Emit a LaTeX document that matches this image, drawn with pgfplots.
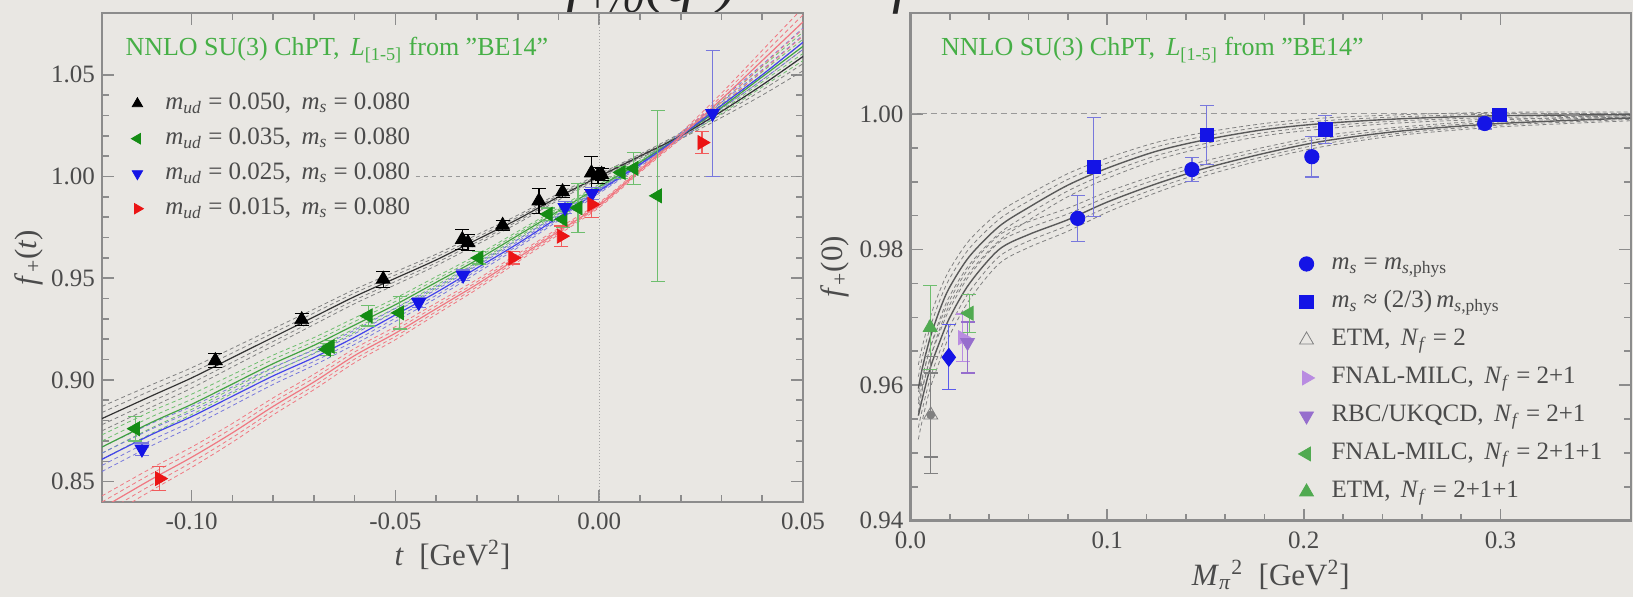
\documentclass[border=0pt]{standalone}
\usepackage{fontspec}
\setmainfont{Liberation Serif}
\usepackage{pgfplots}
\usepackage{pgfplotstable}
\pgfplotsset{compat=1.18}

\definecolor{bg}{RGB}{233,231,227}
\definecolor{axgray}{RGB}{140,140,140}
\definecolor{txtgray}{RGB}{75,75,75}
\definecolor{titlegreen}{RGB}{70,175,70}
\definecolor{fgreen}{RGB}{20,140,20}
\definecolor{egreen}{RGB}{110,190,110}
\definecolor{fblue}{RGB}{20,20,230}
\definecolor{eblue}{RGB}{120,120,220}
\definecolor{fred}{RGB}{235,20,20}
\definecolor{pinkline}{RGB}{240,120,130}
\definecolor{lpurple}{RGB}{185,140,225}
\definecolor{mpurple}{RGB}{150,110,205}
\definecolor{lgreen}{RGB}{80,170,80}

% left panel: data points, t [GeV^2], f_+(t), error
\pgfplotstableread{
t f e
-0.0942 0.9095 0.0035
-0.0730 0.9296 0.0030
-0.0530 0.9495 0.0040
-0.0336 0.9690 0.0050
-0.0322 0.9675 0.0040
-0.0237 0.9760 0.0025
-0.0148 0.9880 0.0060
-0.0090 0.9925 0.0030
-0.0019 1.0018 0.0080
-0.0003 1.0005 0.0040
0.0006 1.0010 0.0030
}\bkdata
\pgfplotstableread{
t f e
-0.1138 0.8760 0.0060
-0.0669 0.9150 0.0030
-0.0660 0.9165 0.0030
-0.0567 0.9315 0.0050
-0.0490 0.9330 0.0080
-0.0295 0.9600 0.0030
-0.0125 0.9815 0.0030
-0.0089 0.9790 0.0040
-0.0052 0.9846 0.0120
0.0054 1.0020 0.0030
0.0085 1.0040 0.0080
0.0143 0.9905 0.0420
}\grdata
\pgfplotstableread{
t f e
-0.1122 0.8660 0.0030
-0.0443 0.9380 0.0025
-0.0334 0.9515 0.0025
-0.0084 0.9848 0.0030
-0.0018 0.9917 0.0030
0.0278 1.0310 0.0310
}\bldata
\pgfplotstableread{
t f e
-0.1079 0.8515 0.0060
-0.0212 0.9600 0.0030
-0.0093 0.9707 0.0050
-0.0018 0.9863 0.0065
0.0252 1.0167 0.0055
}\rddata
% left panel fit curves and band half-width
\pgfplotstableread{
t bk gr bl rd w
-0.122 0.881 0.867 0.861 0.837 0.0060
-0.110 0.892 0.879 0.873 0.851 0.0055
-0.100 0.901 0.888 0.882 0.862 0.0050
-0.090 0.911 0.898 0.892 0.874 0.0046
-0.080 0.921 0.908 0.902 0.887 0.0042
-0.070 0.931 0.917 0.911 0.899 0.0038
-0.060 0.941 0.927 0.921 0.912 0.0035
-0.050 0.950 0.937 0.932 0.923 0.0032
-0.040 0.959 0.948 0.943 0.935 0.0028
-0.030 0.969 0.959 0.955 0.947 0.0024
-0.020 0.979 0.971 0.967 0.960 0.0020
-0.010 0.990 0.983 0.980 0.973 0.0016
0.000 1.000 0.995 0.993 0.986 0.0012
0.010 1.010 1.007 1.006 1.003 0.0010
0.020 1.020 1.020 1.020 1.020 0.0015
0.030 1.032 1.034 1.035 1.038 0.0030
0.040 1.045 1.049 1.050 1.057 0.0050
0.050 1.059 1.064 1.066 1.076 0.0070
}\fitL

% right panel: data points, M_pi^2 [GeV^2], f_+(0), error
\pgfplotstableread{
M f e
0.0850 0.9846 0.0034
0.1431 0.9918 0.0018
0.2041 0.9937 0.0030
0.2920 0.9986 0.0008
}\circdata
\pgfplotstableread{
M f e
0.0932 0.9922 0.0073
0.1507 0.9969 0.0043
0.2109 0.9977 0.0021
0.2996 0.99985 0.0007
}\sqdata
\pgfplotstableread{
M U L w
0.004 0.9595 0.9555 0.0035
0.006 0.9625 0.9580 0.0032
0.010 0.9670 0.9625 0.0030
0.015 0.9712 0.9665 0.0028
0.020 0.9745 0.9700 0.0026
0.030 0.9790 0.9750 0.0024
0.045 0.9834 0.9800 0.0021
0.060 0.9862 0.9822 0.0019
0.080 0.9895 0.9844 0.0017
0.100 0.9920 0.9870 0.0015
0.125 0.9945 0.9897 0.0013
0.150 0.9962 0.9920 0.0011
0.180 0.9977 0.9942 0.0009
0.210 0.9986 0.9960 0.0008
0.250 0.9993 0.9975 0.0006
0.300 0.99975 0.9986 0.0005
0.366 0.9999 0.9994 0.0004
}\fitR

\pgfplotsset{
  panel/.style={
    scale only axis, anchor=south west,
    axis line style={axgray, line width=1.3pt},
    tick style={axgray, line width=0.8pt},
    major tick length=6pt, minor tick length=3.5pt,
    tick align=inside,
    tick label style={font=\fontsize{12.5}{14}\selectfont, text=txtgray},
    /pgf/number format/assume math mode=true,
    every axis y label/.style={at={(axis description cs:-0.105,0.5)}, rotate=90, anchor=center,
      font=\fontsize{15.5}{17}\selectfont, text=txtgray},
    legend cell align=left,
  },
  err/.style={error bars/.cd, y dir=both, y explicit,
    error bar style={#1, line width=0.6pt},
    error mark options={rotate=90, #1, mark size=3.5pt, line width=0.6pt}},
  band/.style={#1, line width=0.4pt, dash pattern=on 2pt off 1.5pt, smooth, forget plot},
}

\begin{document}
\begin{tikzpicture}
\fill[bg] (0,0) rectangle (816.5pt,298.5pt);

\node[anchor=base west, inner sep=0pt, text=black!85] at (283pt,297.5pt)
  {\fontsize{30}{30}\selectfont\itshape f\textsubscript{+/0}(q\textsuperscript{2})};
\node[anchor=base west, inner sep=0pt, text=black!85] at (446pt,297.5pt)
  {\fontsize{30}{30}\selectfont\itshape f};

% ---------------- left panel ----------------
\begin{axis}[panel,
  at={(51pt,47.5pt)}, width=350.5pt, height=244.5pt,
  xmin=-0.122, xmax=0.05, ymin=0.84, ymax=1.0804,
  xtick={-0.10,-0.05,0,0.05}, ytick={0.85,0.90,0.95,1.00,1.05},
  minor x tick num=4, minor y tick num=4,
  xticklabel style={yshift=-2pt, /pgf/number format/.cd, fixed, fixed zerofill, precision=2},
  yticklabel style={/pgf/number format/.cd, fixed, fixed zerofill, precision=2},
  xlabel={\textit{t}~~[GeV\textsuperscript{2}]},
  ylabel={\textit{f}\textsubscript{+}(\textit{t})},
  every axis x label/.style={at={(axis description cs:0.5,-0.108)}, anchor=center,
    font=\fontsize{15.5}{17}\selectfont, text=txtgray},
  legend image post style={mark size=3pt},
  legend style={at={(axis description cs:0.0414,0.847)}, anchor=north west,
    draw=none, fill=none, font=\fontsize{12.5}{15}\selectfont, text=txtgray,
    row sep=2pt, column sep=9.5pt, inner sep=0pt,
    nodes={inner sep=1.5pt, text height=9pt, text depth=3.5pt}},
]
\addplot[gray!70, densely dotted, line width=0.5pt, forget plot] coordinates {(0,0.84) (0,1.0804)};
\addplot[gray!80, dash pattern=on 2pt off 2pt, line width=0.5pt, forget plot] coordinates {(-0.045,1) (0.05,1)};

% fit curves with error bands
\addplot[band=gray] table[x=t, y expr=\thisrow{bk}+\thisrow{w}] {\fitL};
\addplot[band=gray] table[x=t, y expr=\thisrow{bk}-\thisrow{w}] {\fitL};
\addplot[band=gray] table[x=t, y expr=\thisrow{bk}+0.5*\thisrow{w}] {\fitL};
\addplot[band=gray] table[x=t, y expr=\thisrow{bk}-0.5*\thisrow{w}] {\fitL};
\addplot[band=egreen] table[x=t, y expr=\thisrow{gr}+\thisrow{w}] {\fitL};
\addplot[band=egreen] table[x=t, y expr=\thisrow{gr}-\thisrow{w}] {\fitL};
\addplot[band=egreen] table[x=t, y expr=\thisrow{gr}+0.5*\thisrow{w}] {\fitL};
\addplot[band=egreen] table[x=t, y expr=\thisrow{gr}-0.5*\thisrow{w}] {\fitL};
\addplot[band=eblue] table[x=t, y expr=\thisrow{bl}+\thisrow{w}] {\fitL};
\addplot[band=eblue] table[x=t, y expr=\thisrow{bl}-\thisrow{w}] {\fitL};
\addplot[band=eblue] table[x=t, y expr=\thisrow{bl}+0.5*\thisrow{w}] {\fitL};
\addplot[band=eblue] table[x=t, y expr=\thisrow{bl}-0.5*\thisrow{w}] {\fitL};
\addplot[band=pinkline] table[x=t, y expr=\thisrow{rd}+\thisrow{w}] {\fitL};
\addplot[band=pinkline] table[x=t, y expr=\thisrow{rd}-\thisrow{w}] {\fitL};
\addplot[band=pinkline] table[x=t, y expr=\thisrow{rd}+0.5*\thisrow{w}] {\fitL};
\addplot[band=pinkline] table[x=t, y expr=\thisrow{rd}-0.5*\thisrow{w}] {\fitL};
\addplot[black!80, line width=0.6pt, smooth, forget plot] table[x=t, y=bk] {\fitL};
\addplot[fgreen!80, line width=0.6pt, smooth, forget plot] table[x=t, y=gr] {\fitL};
\addplot[fblue!80, line width=0.6pt, smooth, forget plot] table[x=t, y=bl] {\fitL};
\addplot[pinkline, line width=0.6pt, smooth, forget plot] table[x=t, y=rd] {\fitL};

% data
\addplot[only marks, mark=triangle*, mark size=4pt, black, mark options={fill=black}, err=black]
  table[x=t, y=f, y error=e] {\bkdata};
\addlegendentry{\textit{m}\textsubscript{\textit{ud}} = 0.050,\, \textit{m}\textsubscript{\textit{s}} = 0.080}
\addplot[only marks, mark=triangle*, mark size=4pt, fgreen, mark options={fill=fgreen, rotate=90}, err=egreen]
  table[x=t, y=f, y error=e] {\grdata};
\addlegendentry{\textit{m}\textsubscript{\textit{ud}} = 0.035,\, \textit{m}\textsubscript{\textit{s}} = 0.080}
\addplot[only marks, mark=triangle*, mark size=4pt, fblue, mark options={fill=fblue, rotate=180}, err=eblue]
  table[x=t, y=f, y error=e] {\bldata};
\addlegendentry{\textit{m}\textsubscript{\textit{ud}} = 0.025,\, \textit{m}\textsubscript{\textit{s}} = 0.080}
\addplot[only marks, mark=triangle*, mark size=4pt, fred, mark options={fill=fred, rotate=270}, err=fred!70]
  table[x=t, y=f, y error=e] {\rddata};
\addlegendentry{\textit{m}\textsubscript{\textit{ud}} = 0.015,\, \textit{m}\textsubscript{\textit{s}} = 0.080}

\node[anchor=west, inner sep=0pt, text=titlegreen, font=\fontsize{13}{15}\selectfont]
  at (axis description cs:0.033,0.924) {NNLO SU(3) ChPT,\, \textit{L}\textsubscript{[1-5]} from "BE14"};
\end{axis}

% ---------------- right panel ----------------
\begin{axis}[panel,
  at={(455.25pt,38.15pt)}, width=360.25pt, height=253.85pt,
  xmin=0, xmax=0.3664, ymin=0.94, ymax=1.0149,
  xtick={0,0.1,0.2,0.3}, ytick={0.94,0.96,0.98,1.00},
  minor x tick num=4, minor y tick num=3,
  xticklabel style={yshift=-2pt, /pgf/number format/.cd, fixed, fixed zerofill, precision=1},
  yticklabel style={/pgf/number format/.cd, fixed, fixed zerofill, precision=2},
  xlabel={\textit{M}\textsubscript{\textit{π}}\textsuperscript{2}~~[GeV\textsuperscript{2}]},
  ylabel={\textit{f}\textsubscript{+}(0)},
  every axis x label/.style={at={(axis description cs:0.5,-0.107)}, anchor=center,
    font=\fontsize{15.5}{17}\selectfont, text=txtgray},
  legend style={at={(axis description cs:0.538,0.537)}, anchor=north west,
    draw=none, fill=none, font=\fontsize{12.5}{15}\selectfont, text=txtgray,
    row sep=3.5pt, column sep=7pt, inner sep=0pt,
    nodes={inner sep=1.5pt, text height=9pt, text depth=3.5pt}},
]
\addplot[gray!80, dash pattern=on 3pt off 2pt, line width=0.5pt, forget plot] coordinates {(0,1) (0.3664,1)};

\addplot[band=gray] table[x=M, y expr=\thisrow{U}+\thisrow{w}] {\fitR};
\addplot[band=gray] table[x=M, y expr=\thisrow{U}-\thisrow{w}] {\fitR};
\addplot[band=gray] table[x=M, y expr=\thisrow{U}+0.5*\thisrow{w}] {\fitR};
\addplot[band=gray] table[x=M, y expr=\thisrow{U}-0.5*\thisrow{w}] {\fitR};
\addplot[band=gray] table[x=M, y expr=\thisrow{L}+\thisrow{w}] {\fitR};
\addplot[band=gray] table[x=M, y expr=\thisrow{L}-\thisrow{w}] {\fitR};
\addplot[band=gray] table[x=M, y expr=\thisrow{L}+0.5*\thisrow{w}] {\fitR};
\addplot[band=gray] table[x=M, y expr=\thisrow{L}-0.5*\thisrow{w}] {\fitR};
\addplot[black!65, line width=0.7pt, smooth, forget plot] table[x=M, y=U] {\fitR};
\addplot[black!65, line width=0.7pt, smooth, forget plot] table[x=M, y=L] {\fitR};

\addplot[only marks, mark=*, mark size=3.6pt, fblue, err=eblue]
  table[x=M, y=f, y error=e] {\circdata};
\addlegendentry{\textit{m}\textsubscript{\textit{s}} = \textit{m}\textsubscript{\textit{s},phys}}
\addplot[only marks, mark=square*, mark size=3.4pt, fblue, err=eblue]
  table[x=M, y=f, y error=e] {\sqdata};
\addlegendentry{\textit{m}\textsubscript{\textit{s}} ≈ (2/3)\,\textit{m}\textsubscript{\textit{s},phys}}
\addplot[only marks, mark=triangle, mark size=4pt, gray, err=gray]
  coordinates {(0.0103,0.9556) +- (0,0.0062)};
\addlegendentry{ETM,\, \textit{N}\textsubscript{\textit{f}} = 2}
\addplot[only marks, mark=triangle*, mark size=4pt, lpurple, mark options={fill=lpurple, rotate=270}, err=lpurple]
  coordinates {(0.0265,0.9670) +- (0,0.0035)};
\addlegendentry{FNAL-MILC,\, \textit{N}\textsubscript{\textit{f}} = 2+1}
\addplot[only marks, mark=triangle*, mark size=4pt, mpurple, mark options={fill=mpurple, rotate=180},
  error bars/.cd, y dir=both, y explicit, error bar style={mpurple, line width=0.6pt},
  error mark options={rotate=90, mpurple, mark size=3.5pt, line width=0.6pt}]
  coordinates {(0.0290,0.9663) += (0,0.0030) -= (0,0.0045)};
\addlegendentry{RBC/UKQCD,\, \textit{N}\textsubscript{\textit{f}} = 2+1}
\addplot[only marks, mark=triangle*, mark size=4pt, lgreen, mark options={fill=lgreen, rotate=90}, err=egreen]
  coordinates {(0.0298,0.9706) +- (0,0.0028)};
\addlegendentry{FNAL-MILC,\, \textit{N}\textsubscript{\textit{f}} = 2+1+1}
\addplot[only marks, mark=triangle*, mark size=4pt, lgreen, mark options={fill=lgreen}, err=egreen]
  coordinates {(0.0100,0.9685) +- (0,0.0062)};
\addlegendentry{ETM,\, \textit{N}\textsubscript{\textit{f}} = 2+1+1}
% outer error of ETM Nf=2 and the final result
\addplot[forget plot, only marks, mark=none, gray, err=gray]
  coordinates {(0.0103,0.9556) +- (0,0.0086)};
\addplot[forget plot, only marks, mark=diamond*, mark size=4.5pt, fblue, err=fblue!70]
  coordinates {(0.0195,0.9641) +- (0,0.0048)};

\node[anchor=west, inner sep=0pt, text=titlegreen, font=\fontsize{13}{15}\selectfont]
  at (axis description cs:0.042,0.927) {NNLO SU(3) ChPT,\, \textit{L}\textsubscript{[1-5]} from "BE14"};
\end{axis}

\pgfresetboundingbox
\useasboundingbox (0,0) rectangle (816.5pt,298.5pt);
\end{tikzpicture}
\end{document}
